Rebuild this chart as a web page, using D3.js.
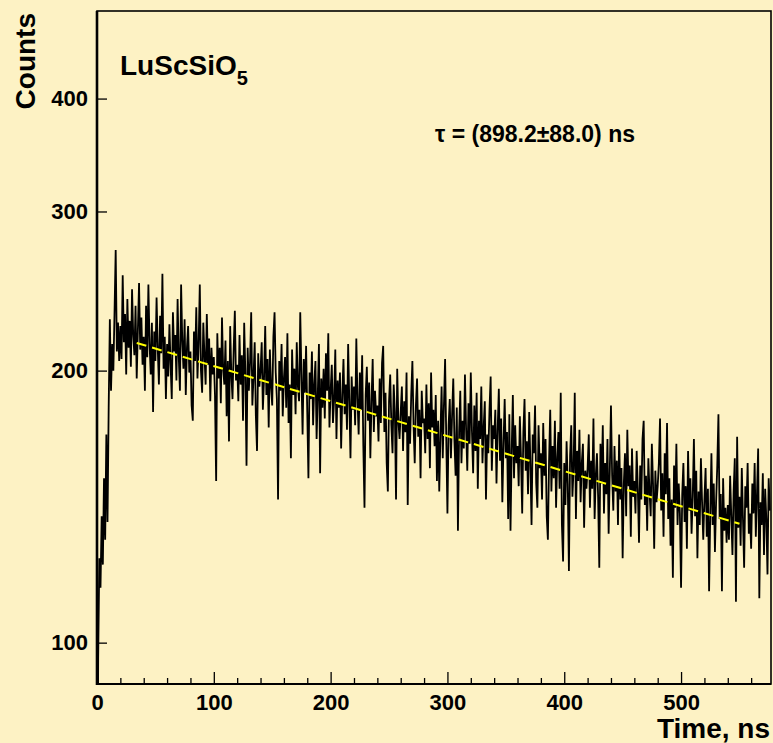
<!DOCTYPE html>
<html>
<head>
<meta charset="utf-8">
<script src="https://cdn.jsdelivr.net/npm/d3@7"></script>
<style>
  body { margin: 0; background: #fdf2c4; }
  svg { display: block; }
  text { font-family: "Liberation Sans", Arial, Helvetica, sans-serif; font-weight: bold; fill: #000; }
</style>
</head>
<body>
<script>
// counts per 1 ns bin, t = 0 .. 576 ns
var counts = [
  40, 96, 124, 115, 138, 122, 152, 130, 170, 136, 182, 228, 190, 214, 200, 232, 272, 210, 226, 205,
  224, 206, 255, 215, 231, 198, 240, 212, 227, 202, 246, 219, 208, 236, 196, 222, 250, 211, 229, 203,
  218, 190, 236, 207, 249, 214, 198, 226, 180, 221, 205, 241, 212, 193, 230, 209, 256, 201, 218, 186,
  214, 197, 225, 203, 186, 232, 210, 219, 195, 240, 207, 190, 249, 216, 201, 228, 188, 212, 224, 199,
  210, 183, 176, 221, 205, 235, 196, 214, 249, 200, 189, 226, 208, 193, 231, 203, 217, 185, 212, 198,
  207, 188, 151, 220, 196, 212, 184, 229, 201, 193, 216, 178, 205, 167, 224, 198, 186, 211, 233, 195,
  203, 185, 219, 193, 208, 176, 226, 199, 157, 212, 190, 204, 232, 183, 197, 215, 178, 163, 209, 192,
  200, 215, 181, 196, 224, 188, 206, 173, 211, 192, 183, 218, 232, 199, 186, 144, 205, 190, 214, 178,
  196, 207, 182, 220, 175, 193, 160, 211, 188, 201, 179, 215, 192, 185, 232, 198, 170, 206, 189, 213,
  180, 152, 199, 186, 210, 174, 193, 205, 168, 188, 214, 154, 196, 182, 201, 177, 209, 190, 220, 173,
  190, 203, 175, 186, 211, 168, 195, 182, 199, 164, 188, 206, 179, 193, 172, 214, 185, 160, 197, 181,
  192, 174, 217, 186, 170, 199, 181, 208, 165, 141, 188, 202, 176, 194, 160, 185, 206, 171, 190, 178,
  183, 167, 196, 175, 204, 213, 171, 189, 158, 147, 185, 198, 174, 162, 193, 180, 144, 201, 176, 168,
  180, 192, 163, 185, 171, 199, 142, 178, 166, 188, 205, 174, 158, 183, 196, 169, 181, 152, 190, 175,
  177, 162, 193, 168, 184, 156, 199, 173, 181, 165, 188, 151, 176, 147, 170, 192, 160, 183, 206, 168,
  139, 174, 186, 160, 179, 196, 167, 153, 182, 133, 171, 190, 158, 176, 164, 198, 172, 155, 184, 166,
  199, 171, 154, 183, 163, 189, 148, 176, 168, 192, 158, 173, 185, 144, 170, 162, 181, 197, 155, 174,
  168, 181, 150, 172, 191, 159, 177, 143, 166, 186, 160, 171, 137, 179, 133, 163, 188, 152, 174, 158,
  165, 149, 178, 160, 139, 171, 186, 155, 167, 146, 180, 158, 135, 170, 162, 183, 150, 141, 174, 156,
  162, 144, 175, 153, 168, 138, 130, 159, 181, 147, 165, 152, 176, 141, 160, 171, 148, 189, 135, 123,
  158, 142, 167, 150, 120, 161, 174, 145, 156, 189, 137, 163, 151, 172, 143, 158, 166, 134, 155, 148,
  156, 170, 141, 159, 148, 177, 137, 153, 162, 145, 121, 166, 150, 174, 139, 158, 146, 168, 132, 155,
  183, 153, 140, 165, 147, 159, 135, 170, 144, 156, 124, 150, 162, 138, 172, 149, 157, 131, 164, 145,
  151, 139, 163, 148, 129, 157, 144, 168, 176, 142, 153, 133, 160, 147, 138, 166, 150, 127, 155, 143,
  149, 158, 177, 140, 154, 131, 162, 146, 175, 137, 152, 128, 144, 118, 157, 141, 166, 135, 150, 139,
  115, 146, 158, 136, 149, 127, 163, 140, 152, 132, 145, 168, 138, 155, 124, 147, 135, 160, 143, 130,
  144, 156, 131, 148, 114, 139, 162, 135, 150, 126, 143, 157, 179, 137, 146, 114, 152, 133, 141, 129,
  142, 130, 153, 138, 125, 147, 160, 111, 169, 134, 145, 128, 156, 137, 121, 149, 141, 158, 132, 139,
  127, 150, 139, 158, 131, 146, 164, 112, 143, 135, 154, 125, 148, 137, 119, 152, 140
];
var binWidth = 1; // ns

// exponential fit, drawn between its two end points (straight on log axis)
var fitTime = [34, 550];
var fitCounts = [214.6, 135.4];

var xMajor = [0, 100, 200, 300, 400, 500];
var xMinor = [20, 40, 60, 80, 120, 140, 160, 180, 220, 240, 260, 280, 320, 340, 360, 380, 420, 440, 460, 480, 520, 540, 560];
var yMajor = [100, 200, 300, 400];

drawChart();

function drawChart(){
    var width = 773, height = 743;
    //plot frame edges
    var pL = 97, pR = 771, pT = 11, pB = 684;

    var svg = d3.select("body").append("svg")
        .attr("width", width)
        .attr("height", height);

    svg.append("rect")
        .attr("width", width).attr("height", height)
        .attr("fill", "#fdf2c4");

    var x = d3.scaleLinear().domain([0, 577]).range([pL, pR]);
    var y = d3.scaleLog().domain([90, 500]).range([pB, pT]);

    svg.append("clipPath").attr("id", "plot")
      .append("rect")
        .attr("x", pL).attr("y", pT)
        .attr("width", pR - pL).attr("height", pB - pT);

    //data trace
    var pts = counts.map(function(c, i){ return [i * binWidth, c]; });
    var line = d3.line()
        .x(function(d){ return x(d[0]); })
        .y(function(d){ return y(d[1]); });

    svg.append("path")
        .datum(pts)
        .attr("clip-path", "url(#plot)")
        .attr("fill", "none")
        .attr("stroke", "#000")
        .attr("stroke-width", 1.8)
        .attr("d", line);

    //fit line
    svg.append("path")
        .datum(fitTime.map(function(t, i){ return [t, fitCounts[i]]; }))
        .attr("fill", "none")
        .attr("stroke", "#ffff00")
        .attr("stroke-width", 2)
        .attr("stroke-dasharray", "10,6")
        .attr("d", line);

    //axes
    svg.append("g")
        .attr("transform", "translate(0," + pB + ")")
        .call(d3.axisBottom(x).tickValues(xMajor).tickSizeInner(-12).tickSizeOuter(0).tickPadding(10).tickFormat(d3.format("d")));
    svg.append("g")
        .attr("transform", "translate(0," + pB + ")")
        .call(d3.axisBottom(x).tickValues(xMinor).tickSizeInner(-6).tickSizeOuter(0).tickFormat(""));
    svg.append("g")
        .attr("transform", "translate(" + pL + ",0)")
        .call(d3.axisLeft(y).tickValues(yMajor).tickSizeInner(-10).tickSizeOuter(0).tickPadding(9).tickFormat(d3.format("d")));

    svg.selectAll(".domain").remove();
    svg.selectAll(".tick line").attr("stroke", "#000").attr("stroke-width", 1.3);
    svg.selectAll(".tick text").attr("font-size", 22).attr("font-family", null);

    //frame
    svg.append("rect")
        .attr("x", pL).attr("y", pT)
        .attr("width", pR - pL).attr("height", pB - pT)
        .attr("fill", "none").attr("stroke", "#000").attr("stroke-width", 1.6);
    svg.append("line")
        .attr("x1", pL).attr("x2", pL).attr("y1", pT).attr("y2", pB + 1)
        .attr("stroke", "#000").attr("stroke-width", 2.6);
    svg.append("line")
        .attr("x1", pL).attr("x2", pR).attr("y1", pB).attr("y2", pB)
        .attr("stroke", "#000").attr("stroke-width", 2.2);

    //titles
    svg.append("text")
        .attr("transform", "translate(35,13) rotate(-90)")
        .attr("text-anchor", "end")
        .attr("font-size", 28)
        .text("Counts");

    svg.append("text")
        .attr("x", 770).attr("y", 738)
        .attr("text-anchor", "end")
        .attr("font-size", 28)
        .text("Time, ns");

    var label = svg.append("text")
        .attr("x", 120).attr("y", 75)
        .attr("font-size", 28);
    label.append("tspan").text("LuScSiO");
    label.append("tspan").attr("font-size", 20).attr("dy", 10).text("5");

    svg.append("text")
        .attr("x", 435).attr("y", 141.5)
        .attr("font-size", 23)
        .text("\u03C4 = (898.2\u00B188.0) ns");
}
</script>
</body>
</html>
